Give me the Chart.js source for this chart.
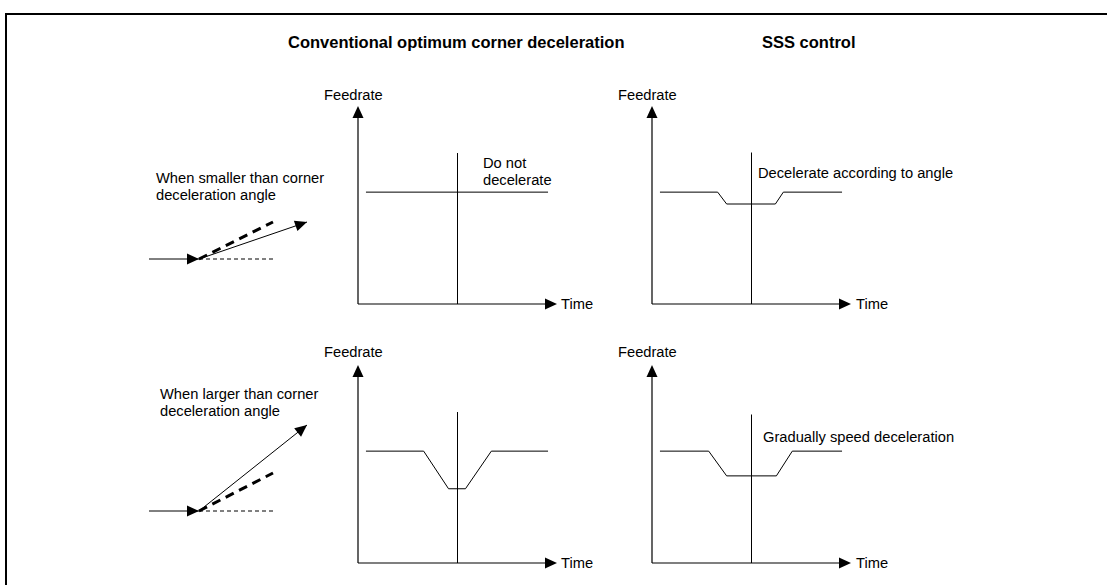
<!DOCTYPE html>
<html>
<head>
<meta charset="utf-8">
<script src="https://cdn.jsdelivr.net/npm/chart.js@4"></script>
<style>
  body { margin: 0; background: #fff; width: 1107px; height: 585px; overflow: hidden; position: relative; font-family: "Liberation Sans", Arial, sans-serif; color: #000; }
  .frame { position: absolute; left: 5px; top: 13px; width: 1200px; height: 700px; border-left: 2.5px solid #000; border-top: 2.5px solid #000; }
  canvas { position: absolute; }
  .lbl { position: absolute; font-size: 14.7px; line-height: 17px; white-space: nowrap; }
  .ttl { position: absolute; font-size: 16.5px; font-weight: bold; line-height: 20px; white-space: nowrap; }
</style>
</head>
<body>
<div class="frame"></div>

<div class="ttl" style="left:288px; top:32px;">Conventional optimum corner deceleration</div>
<div class="ttl" style="left:762px; top:32px;">SSS control</div>

<div class="lbl" style="left:156px; top:170px;">When smaller than corner<br>deceleration angle</div>
<div class="lbl" style="left:160px; top:386px;">When larger than corner<br>deceleration angle</div>

<div class="lbl" style="left:324px; top:87px;">Feedrate</div>
<div class="lbl" style="left:618px; top:87px;">Feedrate</div>
<div class="lbl" style="left:324px; top:344px;">Feedrate</div>
<div class="lbl" style="left:618px; top:344px;">Feedrate</div>

<div class="lbl" style="left:561px; top:296px;">Time</div>
<div class="lbl" style="left:856px; top:296px;">Time</div>
<div class="lbl" style="left:561px; top:555px;">Time</div>
<div class="lbl" style="left:856px; top:555px;">Time</div>

<div class="lbl" style="left:483px; top:155px;">Do not<br>decelerate</div>
<div class="lbl" style="left:758px; top:165px;">Decelerate according to angle</div>
<div class="lbl" style="left:763px; top:429px;">Gradually speed deceleration</div>

<canvas id="convSmall" width="223" height="222"></canvas>
<canvas id="sssSmall" width="223" height="222"></canvas>
<canvas id="convLarge" width="223" height="222"></canvas>
<canvas id="sssLarge" width="223" height="222"></canvas>
<canvas id="cornerSmall" width="170" height="105"></canvas>
<canvas id="cornerLarge" width="170" height="105"></canvas>

<script>
// feedrate profiles, time and feedrate in the same arbitrary units (0..20)
const cornerTime = 10;
const cornerMarkTop = [15.25, 15.3, 15.25, 15];

const convSmallTime = [0.8, 19.1];
const convSmallFeed = [11.3, 11.3];

const sssSmallTime = [0.8, 6.6, 7.5, 12.4, 13.2, 19.1];
const sssSmallFeed = [11.3, 11.3, 10.1, 10.1, 11.3, 11.3];

const convLargeTime = [0.8, 6.6, 9.1, 10.8, 13.4, 19.1];
const convLargeFeed = [11.3, 11.3, 7.5, 7.5, 11.3, 11.3];

const sssLargeTime = [0.8, 5.7, 7.5, 12.5, 14.1, 19.1];
const sssLargeFeed = [11.3, 11.3, 8.8, 8.8, 11.3, 11.3];

// corner sketches: path vectors starting at the corner point
const incomingX = [-50, 0];
const incomingY = [0, 0];
const straightX = [0, 74];
const straightY = [0, 0];

const smallLimitX = [0, 74];
const smallLimitY = [0, 37];
const smallPathX = [0, 108];
const smallPathY = [0, 37];

const largeLimitX = [0, 74];
const largeLimitY = [0, 38];
const largePathX = [0, 108];
const largePathY = [0, 86];

function toPoints(xs, ys) {
    return xs.map((x, i) => ({ x: x, y: ys[i] }));
}

function drawHead(ctx, fromX, fromY, tipX, tipY) {
    const ang = Math.atan2(tipY - fromY, tipX - fromX);
    const len = 12, half = 5.5;
    const bx = tipX - len * Math.cos(ang), by = tipY - len * Math.sin(ang);
    ctx.beginPath();
    ctx.moveTo(tipX, tipY);
    ctx.lineTo(bx + half * Math.sin(ang), by - half * Math.cos(ang));
    ctx.lineTo(bx - half * Math.sin(ang), by + half * Math.cos(ang));
    ctx.closePath();
    ctx.fillStyle = '#000';
    ctx.fill();
}

// draws the two axis lines with arrow tips
const axesPlugin = {
    id: 'axesArrows',
    beforeDatasetsDraw(chart) {
        if (!chart.options.plugins.axesArrows) return;
        const ctx = chart.ctx, xs = chart.scales.x, ys = chart.scales.y;
        const x0 = xs.getPixelForValue(0), y0 = ys.getPixelForValue(0);
        const x1 = xs.getPixelForValue(xs.max), y1 = ys.getPixelForValue(ys.max);
        ctx.save();
        ctx.strokeStyle = '#000';
        ctx.lineWidth = 1.2;
        ctx.beginPath();
        ctx.moveTo(x0, y0); ctx.lineTo(x1 - 10, y0);
        ctx.moveTo(x0, y0); ctx.lineTo(x0, y1 + 10);
        ctx.stroke();
        drawHead(ctx, x0, y0, x1, y0);
        drawHead(ctx, x0, y0, x0, y1);
        ctx.restore();
    }
};

// arrow heads at the end of datasets flagged with arrowHead
const headPlugin = {
    id: 'lineHeads',
    afterDatasetsDraw(chart) {
        const ctx = chart.ctx;
        chart.data.datasets.forEach((ds, i) => {
            if (!ds.arrowHead) return;
            const pts = chart.getDatasetMeta(i).data;
            const a = pts[pts.length - 2], b = pts[pts.length - 1];
            ctx.save();
            drawHead(ctx, a.x, a.y, b.x, b.y);
            ctx.restore();
        });
    }
};

function lineSet(xs, ys, extra) {
    return Object.assign({
        data: toPoints(xs, ys),
        showLine: true,
        borderColor: '#000',
        borderWidth: 1,
        pointRadius: 0,
        fill: false,
        tension: 0
    }, extra || {});
}

function baseOptions(xMin, xMax, yMin, yMax, pad, withAxes) {
    return {
        responsive: false,
        animation: false,
        layout: { padding: pad },
        plugins: { legend: { display: false }, tooltip: { enabled: false }, axesArrows: withAxes },
        scales: {
            x: { type: 'linear', min: xMin, max: xMax, display: false },
            y: { type: 'linear', min: yMin, max: yMax, display: false }
        }
    };
}

const PAD = 12;
function makePanel(id, originX, originY, times, feeds, markTop) {
    const canvas = document.getElementById(id);
    canvas.style.left = (originX - PAD) + 'px';
    canvas.style.top = (originY - 198 - PAD) + 'px';
    new Chart(canvas, {
        type: 'scatter',
        data: {
            datasets: [
                lineSet(times, feeds),
                lineSet([cornerTime, cornerTime], [0, markTop])
            ]
        },
        options: baseOptions(0, 20, 0, 20, PAD, true),
        plugins: [axesPlugin]
    });
}

makePanel('convSmall', 358, 304, convSmallTime, convSmallFeed, cornerMarkTop[0]);
makePanel('sssSmall', 652, 304, sssSmallTime, sssSmallFeed, cornerMarkTop[1]);
makePanel('convLarge', 358, 563, convLargeTime, convLargeFeed, cornerMarkTop[2]);
makePanel('sssLarge', 652, 563, sssLargeTime, sssLargeFeed, cornerMarkTop[3]);

function makeCorner(id, cornerX, cornerY, limX, limY, pathX, pathY) {
    const canvas = document.getElementById(id);
    // 1 unit = 1 px, x from -55 to 115, y from -10 to 95
    canvas.style.left = (cornerX - 55) + 'px';
    canvas.style.top = (cornerY - 95) + 'px';
    new Chart(canvas, {
        type: 'scatter',
        data: {
            datasets: [
                lineSet(incomingX, incomingY, { arrowHead: true }),
                lineSet(straightX, straightY, { borderDash: [4, 3] }),
                lineSet(limX, limY, { borderWidth: 3, borderDash: [9, 6] }),
                lineSet(pathX, pathY, { arrowHead: true })
            ]
        },
        options: baseOptions(-55, 115, -10, 95, 0, false),
        plugins: [headPlugin]
    });
}

makeCorner('cornerSmall', 199, 259, smallLimitX, smallLimitY, smallPathX, smallPathY);
makeCorner('cornerLarge', 199, 511, largeLimitX, largeLimitY, largePathX, largePathY);
</script>
</body>
</html>
